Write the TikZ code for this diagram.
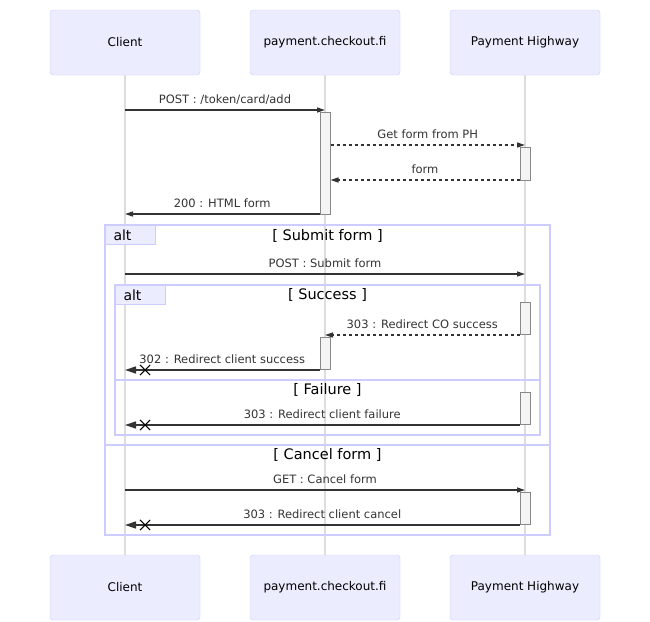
\documentclass[tikz,border=0pt]{standalone}
\usepackage{fontspec}
\setmainfont{DejaVu Sans}
\usetikzlibrary{arrows.meta,positioning,shapes.misc}
\definecolor{actorfill}{HTML}{ECECFF}
\definecolor{actorline}{HTML}{CCCCFF}
\definecolor{lifeline}{HTML}{DDDDDD}
\definecolor{msgline}{HTML}{333333}
\definecolor{actfill}{HTML}{F4F4F4}
\definecolor{actline}{HTML}{888888}

\begin{document}
\begin{tikzpicture}[x=1pt, y=-1pt,
  actor/.style={draw=actorline, fill=actorfill, rounded corners=3pt, minimum width=150pt, minimum height=65pt, font=\fontsize{12}{14}\selectfont},
  life/.style={draw=lifeline, line width=1.5pt},
  act/.style={draw=actline, fill=actfill, minimum width=10pt, inner sep=0pt, line width=1pt},
  msg/.style={draw=msgline, line width=1.5pt, -{Triangle[length=8pt,width=5pt]}},
  reply/.style={msg, dash pattern=on 3pt off 3pt},
  lost/.style={draw=msgline, line width=1.5pt, -{Triangle[length=11pt,width=7pt]}},
  xmark/.style={cross out, draw=black, line width=1.1pt, minimum size=9pt, inner sep=0pt},
  lbl/.style={font=\fontsize{11.5}{13}\selectfont, text=msgline, inner sep=0pt, anchor=base, yshift=7pt},
  altframe/.style={draw=actorline, line width=1.5pt},
  altlbl/.style={draw=actorline, line width=1pt, fill=actorfill, anchor=north west, minimum height=19pt, inner ysep=0pt, inner xsep=8pt, text width=34pt, align=left, font=\fontsize{14}{16}\selectfont},
  cond/.style={font=\fontsize{14.5}{16}\selectfont}]
  \useasboundingbox (0,0) rectangle (650,621);

  % Actores
  \node[actor] (cl) at (125,42.5) {Client};
  \node[actor] (pc) at (325,42.5) {payment.checkout.fi};
  \node[actor] (ph) at (525,42.5) {Payment Highway};
  \node[actor] (clb) at (125,587.5) {Client};
  \node[actor] (pcb) at (325,587.5) {payment.checkout.fi};
  \node[actor] (phb) at (525,587.5) {Payment Highway};

  % Lineas de vida
  \draw[life] (cl) -- (clb);
  \draw[life] (pc) -- (pcb);
  \draw[life] (ph) -- (phb);

  % Marcos alt
  \draw[altframe] (105,225) rectangle (550,535);
  \draw[altframe] (105,445) -- (550,445);
  \draw[altframe] (115,285) rectangle (540,435);
  \draw[altframe] (115,380) -- (540,380);
  \node[altlbl] (alt1) at (105,225) {alt};
  \node[altlbl] (alt2) at (115,285) {alt};
  \node[cond] (c1) at (327.5,236) {[ Submit form ]};
  \node[cond] (c2) at (327.5,295) {[ Success ]};
  \node[cond] (c3) at (327.5,390) {[ Failure ]};
  \node[cond] (c4) at (327.5,455) {[ Cancel form ]};

  % Activaciones
  \node[act, minimum height=102pt] (a1) at (325,163) {};
  \node[act, minimum height=33pt] (a2) at (525,163.5) {};
  \node[act, minimum height=32pt] (a3) at (525,318) {};
  \node[act, minimum height=32pt] (a4) at (325,353) {};
  \node[act, minimum height=32pt] (a5) at (525,408) {};
  \node[act, minimum height=32pt] (a6) at (525,508) {};

  % Mensajes
  \coordinate (m1) at (125,110);
  \coordinate (m2) at (125,145);
  \coordinate (m3) at (125,180);
  \coordinate (m4) at (125,214);
  \coordinate (m5) at (125,274);
  \coordinate (m6) at (125,335);
  \coordinate (m7) at (125,370);
  \coordinate (m8) at (125,425);
  \coordinate (m9) at (125,490);
  \coordinate (m10) at (125,525);

  \draw[msg] (m1) -- (m1 -| pc) node[lbl, midway] {POST : /token/card/add};
  \draw[reply] (m2 -| a1.east) -- (m2 -| ph) node[lbl, midway] {Get form from PH};
  \draw[reply] (m3 -| a2.west) -- (m3 -| a1.east) node[lbl, midway] {form};
  \draw[msg] (m4 -| a1.west) -- (m4) node[lbl, midway] {200 : HTML form};
  \draw[msg] (m5) -- (m5 -| ph) node[lbl, midway] {POST : Submit form};
  \draw[reply] (m6 -| a3.west) -- (m6 -| pc) node[lbl, midway] {303 : Redirect CO success};
  \draw[lost] (m7 -| a4.west) -- (m7) node[lbl, midway] {302 : Redirect client success};
  \node[xmark, right=15pt of m7] (x7) {};
  \draw[lost] (m8 -| a5.west) -- (m8) node[lbl, midway] {303 : Redirect client failure};
  \node[xmark, right=15pt of m8] (x8) {};
  \draw[msg] (m9) -- (m9 -| ph) node[lbl, midway] {GET : Cancel form};
  \draw[lost] (m10 -| a6.west) -- (m10) node[lbl, midway] {303 : Redirect client cancel};
  \node[xmark, right=15pt of m10] (x10) {};
\end{tikzpicture}
\end{document}
